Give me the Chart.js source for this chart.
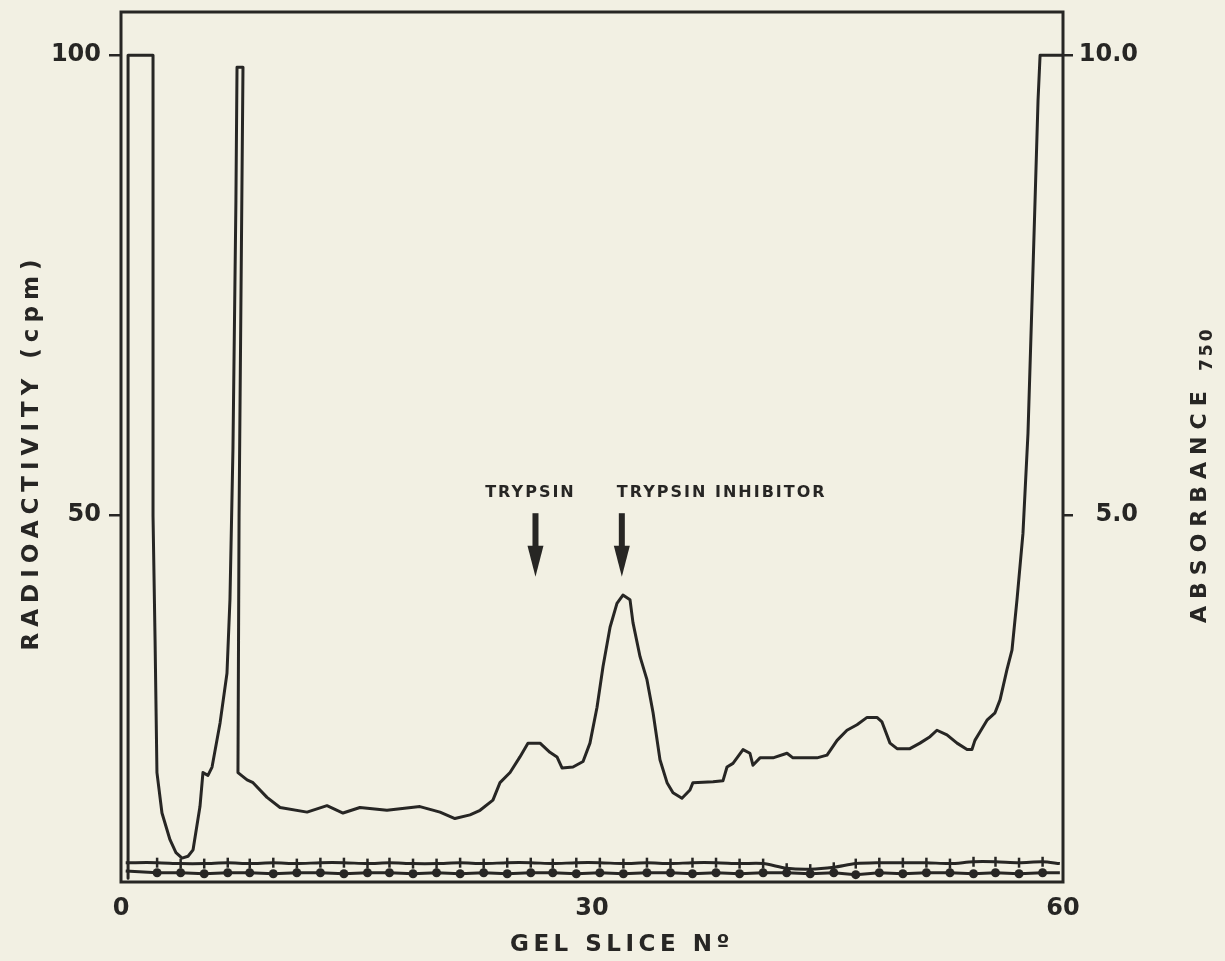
<!DOCTYPE html>
<html>
<head>
<meta charset="utf-8">
<title>Gel slice profile</title>
<script src="https://cdn.jsdelivr.net/npm/chart.js@4/dist/chart.umd.min.js"></script>
<style>
  html, body { margin: 0; padding: 0; background: #f2f0e3; }
  #wrap { width: 1225px; height: 961px; }
</style>
</head>
<body>
<div id="wrap"><canvas id="gel" width="1225" height="961"></canvas></div>
<script>
// densitometer trace of the gel (absorbance at 750 nm)
const absSlices = [
  0.45, 0.45, 2.04, 2.04, 2.17, 2.29, 2.61, 3.12, 3.5, 3.89, 4.27, 4.59, 5.03, 5.22, 5.54, 5.80,
  6.31, 6.75, 6.94, 7.13, 7.32, 7.39, 7.77, 7.64, 7.52, 7.45, 8.03, 8.41, 9.30, 10.13, 11.85,
  13.12, 14.14, 15.22, 16.94, 19.04, 20.32, 21.27, 22.23, 22.87, 23.69, 24.14, 24.78, 25.41,
  25.92, 26.69, 27.32, 27.77, 28.09, 28.79, 29.43, 29.87, 30.32, 30.70, 31.15, 31.59, 31.97,
  32.42, 32.61, 33.06, 33.50, 33.89, 34.33, 34.78, 35.16, 35.73, 36.24, 36.43, 37.71, 38.34,
  38.60, 38.98, 39.62, 40.06, 40.25, 40.70, 41.53, 42.42, 42.80, 44.33, 44.97, 45.61, 46.24,
  46.88, 47.52, 48.15, 48.47, 48.98, 49.43, 50.25, 50.89, 51.53, 51.97, 52.61, 53.25, 53.89,
  54.20, 54.39, 54.71, 55.16, 55.67, 55.99, 56.43, 56.75, 57.07, 57.45, 57.77, 58.03, 58.22,
  58.41, 58.54, 60.0
];
const absValues = [
  1.05, 10.0, 10.0, 4.99, 3.64, 2.20, 1.76, 1.47, 1.33, 1.27, 1.29, 1.36, 1.83, 2.20, 2.17, 2.26,
  2.74, 3.28, 4.08, 5.71, 8.42, 9.87, 9.87, 7.34, 4.99, 2.20, 2.12, 2.09, 1.93, 1.82, 1.77,
  1.84, 1.76, 1.82, 1.79, 1.83, 1.77, 1.70, 1.74, 1.79, 1.90, 2.09, 2.20, 2.37,
  2.52, 2.52, 2.42, 2.37, 2.25, 2.26, 2.32, 2.52, 2.91, 3.35, 3.78, 4.04, 4.13,
  4.08, 3.83, 3.46, 3.21, 2.85, 2.34, 2.09, 1.98, 1.92, 2.01, 2.09, 2.10, 2.11,
  2.26, 2.30, 2.45, 2.41, 2.28, 2.36, 2.36, 2.41, 2.36, 2.36, 2.39, 2.55, 2.66,
  2.72, 2.80, 2.80, 2.75, 2.52, 2.46, 2.46, 2.52, 2.59, 2.66, 2.61, 2.52, 2.45,
  2.45, 2.55, 2.64, 2.77, 2.85, 2.99, 3.32, 3.53, 4.08, 4.80, 5.89, 7.34, 8.42,
  9.51, 10.0, 10.0
];

// counted slices (radioactivity)
const cpmSlices = [
  0.3, 2.3, 3.8, 5.3, 6.8, 8.2, 9.7, 11.2, 12.7, 14.2, 15.7, 17.1, 18.6, 20.1, 21.6, 23.1,
  24.6, 26.1, 27.5, 29.0, 30.5, 32.0, 33.5, 35.0, 36.4, 37.9, 39.4, 40.9, 42.4, 43.9, 45.4,
  46.8, 48.3, 49.8, 51.3, 52.8, 54.3, 55.7, 57.2, 58.7, 59.8
];
const cpmSample = [
  11.3, 11.1, 11.1, 11.0, 11.1, 11.1, 11.0, 11.1, 11.1, 11.0, 11.1, 11.1, 11.0, 11.1, 11.0, 11.1,
  11.0, 11.1, 11.1, 11.0, 11.1, 11.0, 11.1, 11.1, 11.0, 11.1, 11.0, 11.1, 11.1, 11.0, 11.1,
  10.9, 11.1, 11.0, 11.1, 11.1, 11.0, 11.1, 11.0, 11.1, 11.1
];
const cpmControl = [
  12.2, 12.2, 12.1, 12.1, 12.2, 12.1, 12.2, 12.1, 12.2, 12.2, 12.1, 12.2, 12.1, 12.1, 12.2, 12.1,
  12.2, 12.2, 12.1, 12.2, 12.2, 12.1, 12.2, 12.1, 12.2, 12.2, 12.1, 12.1, 11.6, 11.5, 11.7,
  12.1, 12.2, 12.2, 12.2, 12.1, 12.3, 12.3, 12.2, 12.3, 12.1
];

const xTicks = [0, 30, 60];
const cpmTicks = [50, 100];
const absTicks = [5.0, 10.0];

const markerLabels = ['TRYPSIN', 'TRYPSIN INHIBITOR'];
const markerSlices = [26.4, 31.9];

const ink = '#272624';
const fontFamily = '"DejaVu Sans", sans-serif';

function points(xs, ys) {
  return xs.map((x, i) => ({ x, y: ys[i] }));
}

// no extra room for the end tick labels, the frame sets the plot size
function dropLabelPadding(s) {
  s.paddingTop = 0;
  s.paddingBottom = 0;
}

// box around the plot area
const plotFrame = {
  id: 'plotFrame',
  beforeDatasetsDraw(chart) {
    const { ctx, chartArea: a } = chart;
    ctx.save();
    ctx.strokeStyle = ink;
    ctx.lineWidth = 3;
    ctx.strokeRect(a.left, a.top, a.right - a.left, a.bottom - a.top);
    ctx.restore();
  }
};

// axis titles and the two arrows
const labels = {
  id: 'labels',
  afterDraw(chart) {
    const { ctx } = chart;
    const xs = chart.scales.x;
    const y2 = chart.scales.y2;
    ctx.save();
    ctx.fillStyle = ink;
    ctx.textBaseline = 'middle';

    ctx.font = 'bold 23px ' + fontFamily;
    ctx.letterSpacing = '4.5px';
    ctx.textAlign = 'left';
    ctx.fillText('GEL SLICE Nº', 510, 945);

    ctx.save();
    ctx.translate(32, 452);
    ctx.rotate(-Math.PI / 2);
    ctx.textAlign = 'center';
    ctx.font = 'bold 23px ' + fontFamily;
    ctx.letterSpacing = '6px';
    ctx.fillText('RADIOACTIVITY (cpm)', 0, 0);
    ctx.restore();

    ctx.save();
    ctx.translate(1200, 623);
    ctx.rotate(-Math.PI / 2);
    ctx.textAlign = 'left';
    ctx.font = 'bold 22px ' + fontFamily;
    ctx.letterSpacing = '7px';
    ctx.fillText('ABSORBANCE', 0, 0);
    ctx.font = 'bold 17px ' + fontFamily;
    ctx.letterSpacing = '3px';
    ctx.fillText('750', 252, 8);
    ctx.restore();

    ctx.font = 'bold 16px ' + fontFamily;
    ctx.letterSpacing = '2px';
    markerSlices.forEach((s, i) => {
      const x = xs.getPixelForValue(s);
      const top = y2.getPixelForValue(5.02);
      const tip = y2.getPixelForValue(4.33);
      ctx.textAlign = i === 0 ? 'center' : 'left';
      ctx.fillText(markerLabels[i], x - 5, y2.getPixelForValue(5.24));
      ctx.fillRect(x - 3, top, 6, tip - top - 28);
      ctx.beginPath();
      ctx.moveTo(x - 8, tip - 31);
      ctx.lineTo(x + 8, tip - 31);
      ctx.lineTo(x, tip);
      ctx.closePath();
      ctx.fill();
    });
    ctx.restore();
  }
};

const tickFont = { family: fontFamily, size: 24, weight: 'bold' };
const endless = ctx => (ctx.dataIndex === 0 || ctx.dataIndex === cpmSlices.length - 1);

new Chart(document.getElementById('gel'), {
  type: 'line',
  data: {
    datasets: [
      {
        label: 'cpm control',
        data: points(cpmSlices, cpmControl),
        yAxisID: 'y',
        borderColor: ink,
        borderWidth: 3,
        pointStyle: 'line',
        rotation: 90,
        pointRadius: ctx => (endless(ctx) ? 0 : 5),
        pointBorderWidth: 2.5,
        pointBorderColor: ink,
        tension: 0.3
      },
      {
        label: 'cpm',
        data: points(cpmSlices, cpmSample),
        yAxisID: 'y',
        borderColor: ink,
        borderWidth: 3,
        pointRadius: ctx => (endless(ctx) ? 0 : 4.5),
        pointBackgroundColor: ink,
        pointBorderWidth: 0,
        tension: 0
      },
      {
        label: 'A750',
        data: points(absSlices, absValues),
        yAxisID: 'y2',
        borderColor: ink,
        borderWidth: 3,
        pointRadius: 0,
        tension: 0,
        borderJoinStyle: 'round',
        borderCapStyle: 'round'
      }
    ]
  },
  options: {
    responsive: false,
    animation: false,
    devicePixelRatio: 1,
    layout: { padding: { top: 12, right: 87, left: 0, bottom: 0 } },
    plugins: { legend: { display: false }, tooltip: { enabled: false } },
    scales: {
      x: {
        type: 'linear',
        min: 0,
        max: 60,
        afterBuildTicks: s => { s.ticks = xTicks.map(v => ({ value: v })); },
        afterFit: s => { s.height = 79; s.paddingLeft = 0; s.paddingRight = 0; },
        grid: { display: false, tickLength: 0 },
        border: { display: false },
        ticks: { color: ink, font: tickFont, padding: 12, maxRotation: 0 }
      },
      y: {
        type: 'linear',
        position: 'left',
        min: 10.1,
        max: 104.7,
        afterBuildTicks: s => { s.ticks = cpmTicks.map(v => ({ value: v })); },
        afterFit: s => { s.width = 121; dropLabelPadding(s); },
        grid: { drawOnChartArea: false, tickLength: 12, color: ink, lineWidth: 2.5 },
        border: { display: false },
        ticks: { color: ink, font: tickFont, padding: 8 }
      },
      y2: {
        type: 'linear',
        position: 'right',
        min: 1.01,
        max: 10.47,
        afterBuildTicks: s => { s.ticks = absTicks.map(v => ({ value: v })); },
        afterFit: s => { s.width = 75; dropLabelPadding(s); },
        grid: { drawOnChartArea: false, tickLength: 10, color: ink, lineWidth: 2.5 },
        border: { display: false },
        ticks: {
          color: ink,
          font: tickFont,
          padding: 4,
          crossAlign: 'far',
          callback: v => v.toFixed(1)
        }
      }
    }
  },
  plugins: [plotFrame, labels]
});
</script>
</body>
</html>
